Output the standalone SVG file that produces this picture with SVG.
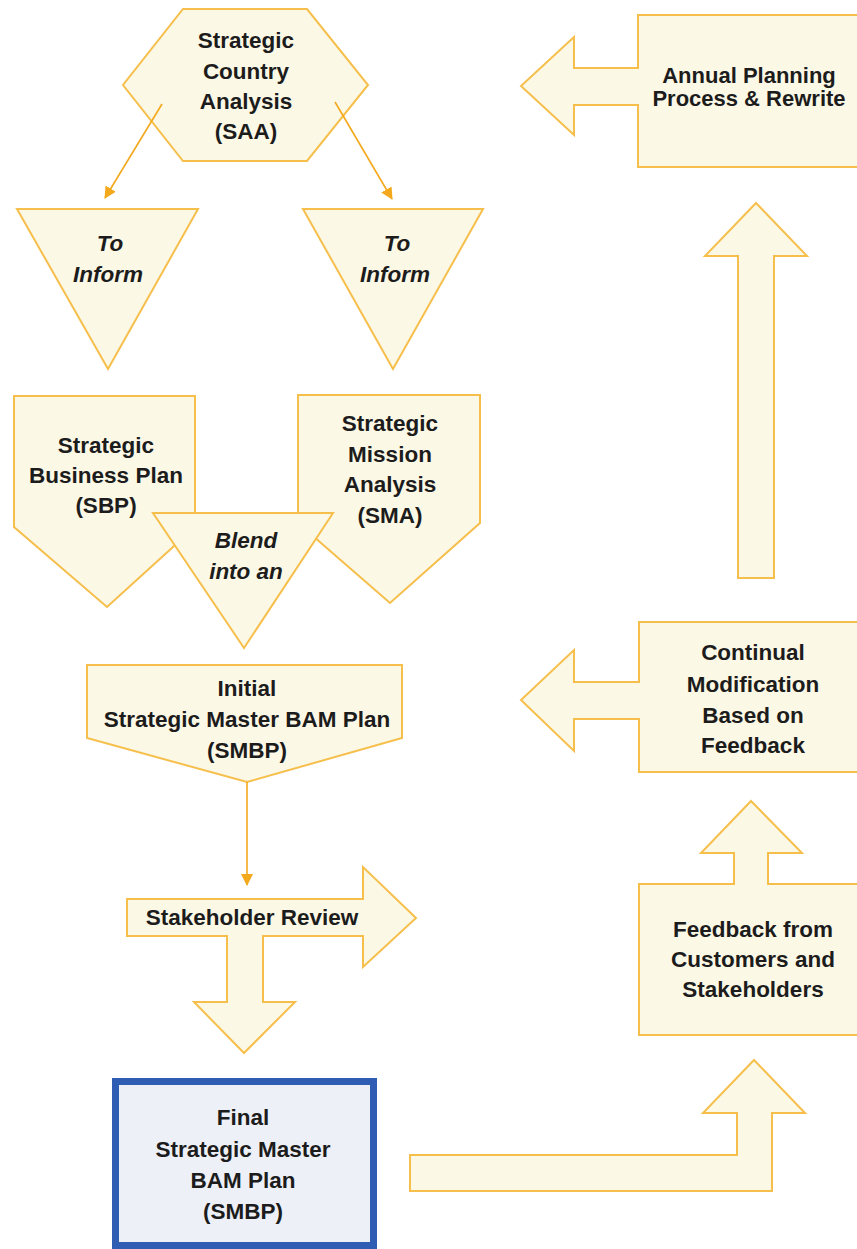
<svg xmlns="http://www.w3.org/2000/svg" width="857" height="1249" viewBox="0 0 857 1249">
<defs>
<style>
.shape{fill:#fcf8e6;stroke:#f6bf4c;stroke-width:2;stroke-linejoin:miter}
.line{fill:none;stroke:#f4a81c;stroke-width:1.6}
.t{font-family:"Liberation Sans",Arial,sans-serif;font-weight:bold;font-size:22.5px;fill:#1c1c1c;text-anchor:middle}
.it{font-style:italic}
.final{fill:#eef0f7;stroke:#2f5db3;stroke-width:7}
</style>
<marker id="ah" viewBox="0 0 12 12" refX="11" refY="6" markerWidth="12" markerHeight="12" markerUnits="userSpaceOnUse" orient="auto">
<path d="M0,0 L12,6 L0,12 Z" fill="#f4a81c"/>
</marker>
</defs>
<rect width="857" height="1249" fill="#ffffff"/>

<g id="saa">
<polygon class="shape" points="183,9 307,9 368,85 307,161 183,161 123,85"/>
<text class="t" x="246" y="48">Strategic</text>
<text class="t" x="246" y="79">Country</text>
<text class="t" x="246" y="109">Analysis</text>
<text class="t" x="246" y="139">(SAA)</text>
</g>

<g id="inform-left">
<polygon class="shape" points="17,209 198,209 108,369"/>
<text class="t it" x="110" y="251">To</text>
<text class="t it" x="108" y="282">Inform</text>
</g>

<g id="inform-right">
<polygon class="shape" points="303,209 483,209 393,369"/>
<text class="t it" x="397" y="251">To</text>
<text class="t it" x="395" y="282">Inform</text>
</g>

<g id="sbp">
<polygon class="shape" points="14,396 195,396 195,527 107,607 14,527"/>
<text class="t" x="106" y="453">Strategic</text>
<text class="t" x="106" y="483">Business Plan</text>
<text class="t" x="106" y="513">(SBP)</text>
</g>

<g id="sma">
<polygon class="shape" points="298,395 480,395 480,523 390,603 298,523"/>
<text class="t" x="390" y="431">Strategic</text>
<text class="t" x="390" y="462">Mission</text>
<text class="t" x="390" y="492">Analysis</text>
<text class="t" x="390" y="523">(SMA)</text>
</g>

<g id="blend">
<polygon class="shape" points="153,513 333,513 244,648"/>
<text class="t it" x="246" y="548">Blend</text>
<text class="t it" x="246" y="579">into an</text>
</g>

<g id="initial-smbp">
<polygon class="shape" points="87,665 402,665 402,738 247,782 87,738"/>
<text class="t" x="247" y="696">Initial</text>
<text class="t" x="247" y="727">Strategic Master BAM Plan</text>
<text class="t" x="247" y="758">(SMBP)</text>
</g>

<g id="stakeholder-review">
<polygon class="shape" points="127,899 363,899 363,867 416,918 363,967 363,936 263,936 263,1002 295,1002 244,1053 194,1002 227,1002 227,936 127,936"/>
<text class="t" x="252" y="925">Stakeholder Review</text>
</g>

<g id="final-smbp">
<rect class="final" x="115.5" y="1081.5" width="258" height="164"/>
<text class="t" x="243" y="1125">Final</text>
<text class="t" x="243" y="1157">Strategic Master</text>
<text class="t" x="243" y="1188">BAM Plan</text>
<text class="t" x="243" y="1219">(SMBP)</text>
</g>

<g id="feedback">
<polygon class="shape" points="639,884 734,884 734,853 701,853 751,801 802,853 768,853 768,884 870,884 870,1035 639,1035"/>
<text class="t" x="753" y="937">Feedback from</text>
<text class="t" x="753" y="967">Customers and</text>
<text class="t" x="753" y="997">Stakeholders</text>
</g>

<g id="continual-modification">
<polygon class="shape" points="639,622 870,622 870,772 639,772 639,719 574,719 574,751 521,700 574,650 574,682 639,682"/>
<text class="t" x="753" y="660">Continual</text>
<text class="t" x="753" y="692">Modification</text>
<text class="t" x="753" y="723">Based on</text>
<text class="t" x="753" y="753">Feedback</text>
</g>

<g id="annual-planning">
<polygon class="shape" points="638,15 870,15 870,167 638,167 638,105 574,105 574,135 521,86 574,37 574,68 638,68"/>
<text class="t" x="749" y="83" style="font-size:22px">Annual Planning</text>
<text class="t" x="749" y="106" style="font-size:22px">Process &amp; Rewrite</text>
</g>

<g id="connectors">
<line class="line" x1="162" y1="104" x2="105" y2="198" marker-end="url(#ah)"/>
<line class="line" x1="335" y1="102" x2="392" y2="199" marker-end="url(#ah)"/>
<line class="line" x1="247" y1="782" x2="247" y2="885" marker-end="url(#ah)"/>
<polygon class="shape" points="738,578 774,578 774,256 807,256 756,203 705,256 738,256"/>
<polygon class="shape" points="410,1155 737,1155 737,1113 703,1113 754,1060 805,1113 772,1113 772,1191 410,1191"/>
</g>
</svg>
